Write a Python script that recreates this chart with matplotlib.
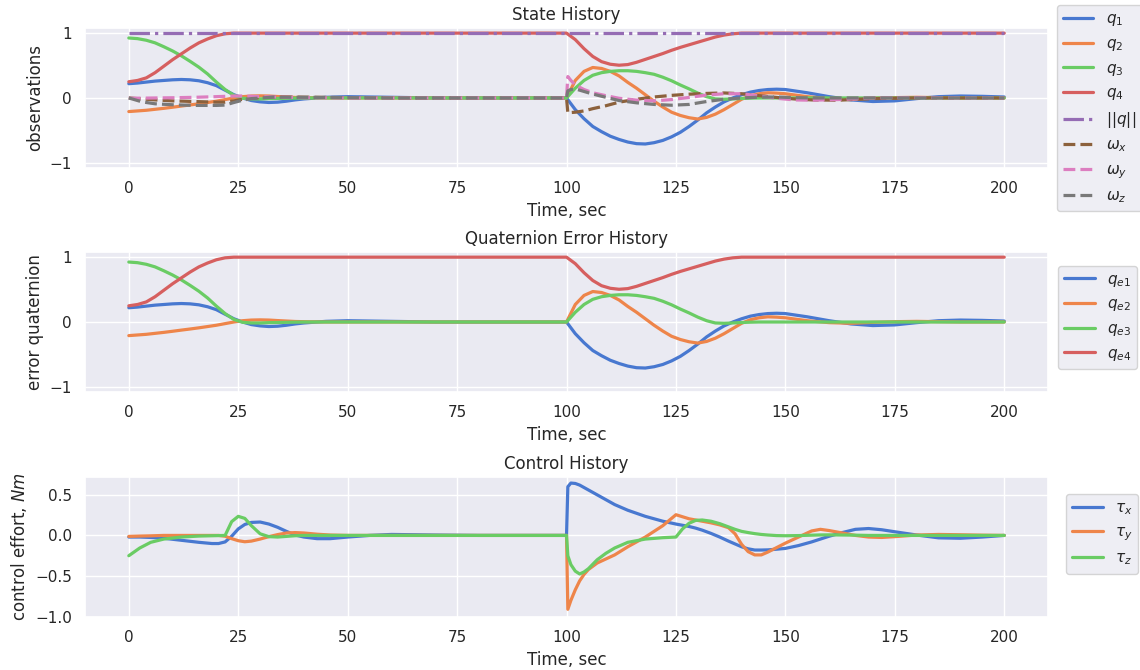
import matplotlib
matplotlib.use("Agg")
import matplotlib.pyplot as plt
import seaborn as sns

# attitude sim results, sampled by hand at the times below

t_q = [0, 2, 4, 6, 8, 10, 12, 14, 16, 18, 20, 22, 24, 26, 28, 30, 32, 34, 36, 38, 40,
       45, 50, 55, 60, 70, 80, 90,
       100, 102, 104, 106, 108, 110, 112, 114, 116, 118, 120, 122, 124, 126,
       128, 130, 132, 134, 136, 138, 140, 142, 144, 146, 148, 150,
       155, 160, 165, 170, 175, 180, 185, 190, 195, 200]

q1 = [0.22, 0.23, 0.245, 0.26, 0.27, 0.28, 0.285, 0.28, 0.265, 0.235, 0.19,
      0.12, 0.05, 0.0, -0.04, -0.06, -0.07, -0.065, -0.05, -0.03, -0.015,
      0.01, 0.02, 0.015, 0.01, 0.0, 0.0, 0.0,
      0.0, -0.18, -0.32, -0.44, -0.52, -0.59, -0.64, -0.68, -0.705, -0.71,
      -0.69, -0.655, -0.6, -0.53, -0.44, -0.34, -0.23, -0.14, -0.06, 0.0,
      0.05, 0.09, 0.115, 0.13, 0.135, 0.13,
      0.08, 0.02, -0.03, -0.055, -0.045, -0.01, 0.02, 0.03, 0.025, 0.015]
q2 = [-0.21, -0.2, -0.19, -0.175, -0.16, -0.143, -0.125, -0.108, -0.09, -0.07,
      -0.05, -0.025, 0.0, 0.02, 0.03, 0.033, 0.03, 0.022, 0.015, 0.008, 0.005,
      0.0, 0.0, 0.0, 0.0, 0.0, 0.0, 0.0,
      0.0, 0.27, 0.41, 0.47, 0.455, 0.41, 0.34, 0.24, 0.15, 0.05,
      -0.05, -0.14, -0.22, -0.27, -0.305, -0.325, -0.3, -0.25, -0.18, -0.1,
      -0.02, 0.035, 0.065, 0.08, 0.075, 0.065,
      0.02, -0.01, -0.02, -0.005, 0.005, 0.01, 0.005, 0.0, 0.0, 0.0]
q3 = [0.925, 0.915, 0.89, 0.85, 0.79, 0.725, 0.65, 0.565, 0.475, 0.37, 0.245,
      0.13, 0.04, -0.005, -0.015, -0.015, -0.01, -0.008, -0.005, -0.002, 0.0,
      0.0, 0.0, 0.0, 0.0, 0.0, 0.0, 0.0,
      0.0, 0.15, 0.27, 0.35, 0.39, 0.41, 0.42, 0.42, 0.41, 0.39,
      0.365, 0.32, 0.265, 0.2, 0.14, 0.075, 0.02, -0.015, -0.02, -0.015,
      -0.008, -0.003, 0.0, 0.0, 0.0, 0.0,
      0.0, 0.0, 0.0, 0.0, 0.0, 0.0, 0.0, 0.0, 0.0, 0.0]
q4 = [0.25, 0.27, 0.31, 0.39, 0.49, 0.59, 0.68, 0.77, 0.85, 0.91, 0.96,
      0.99, 1.0, 1.0, 1.0, 1.0, 1.0, 1.0, 1.0, 1.0, 1.0,
      1.0, 1.0, 1.0, 1.0, 1.0, 1.0, 1.0,
      1.0, 0.9, 0.76, 0.64, 0.56, 0.52, 0.505, 0.515, 0.55, 0.595,
      0.64, 0.685, 0.735, 0.78, 0.82, 0.86, 0.9, 0.94, 0.97, 0.99,
      1.0, 1.0, 1.0, 1.0, 1.0, 1.0,
      1.0, 1.0, 1.0, 1.0, 1.0, 1.0, 1.0, 1.0, 1.0, 1.0]
q_norm = [1.0] * len(t_q)

t_w = [0, 3, 6, 10, 15, 20, 22, 24, 26, 28, 33, 40, 50, 60, 80,
       100, 100.3, 101, 102, 104, 106, 109, 112, 116, 120, 124, 128, 132,
       136, 140, 144, 148, 152, 156, 162, 170, 180, 190, 200]

w_x = [0.0, -0.015, -0.03, -0.045, -0.055, -0.065, -0.065, -0.045, -0.02, 0.0,
       0.015, 0.012, 0.005, 0.0, 0.0,
       0.0, -0.23, -0.225, -0.22, -0.2, -0.165, -0.12, -0.065, -0.02, 0.015,
       0.04, 0.058, 0.07, 0.077, 0.065, 0.035, 0.008, -0.015, -0.03, -0.035,
       -0.01, 0.0, 0.0, 0.0]
w_y = [-0.005, -0.003, 0.0, 0.003, 0.01, 0.02, 0.025, 0.03, 0.03, 0.025,
       0.015, 0.005, 0.0, 0.0, 0.0,
       0.0, 0.33, 0.27, 0.2, 0.13, 0.08, 0.035, -0.005, -0.033, -0.045,
       -0.025, 0.008, 0.045, 0.065, 0.065, 0.032, -0.005, -0.03, -0.035, -0.025,
       0.0, 0.005, 0.0, 0.0]
w_z = [0.0, -0.06, -0.09, -0.105, -0.115, -0.115, -0.11, -0.07, -0.035, -0.01,
       0.012, 0.01, 0.005, 0.0, 0.0,
       0.0, 0.11, 0.13, 0.14, 0.1, 0.06, 0.01, -0.04, -0.075, -0.1,
       -0.112, -0.1, -0.055, -0.02, 0.0, 0.012, 0.015, 0.005, 0.0, 0.0,
       0.0, 0.0, 0.0, 0.0]

t_u = [0, 2.5, 5, 8, 12, 16, 19, 20.5, 22, 23.5, 25, 26.5, 28, 30, 32, 34, 36,
       38, 40, 43, 46, 50, 55, 60, 70, 80, 90,
       100, 100.3, 101, 102, 103, 104, 105, 107, 109, 111, 114, 118, 122, 125,
       126.5, 128, 129.5, 131, 133, 135, 137, 138.5, 140, 141.5, 143, 144.5,
       146, 148, 150, 153, 156, 158, 160, 163, 166, 169, 172, 175, 180, 185,
       190, 195, 200]

tau_x = [-0.02, -0.02, -0.025, -0.035, -0.06, -0.085, -0.1, -0.1, -0.08, -0.01,
         0.08, 0.135, 0.16, 0.165, 0.14, 0.1, 0.05, 0.005, -0.02, -0.04, -0.04,
         -0.02, 0.0, 0.012, 0.005, 0.0, 0.0,
         0.0, 0.6, 0.645, 0.64, 0.62, 0.59, 0.56, 0.5, 0.44, 0.38, 0.31, 0.235,
         0.175, 0.14, 0.125, 0.11, 0.09, 0.065, 0.025, -0.02, -0.07, -0.105,
         -0.14, -0.165, -0.18, -0.18, -0.178, -0.17, -0.16, -0.125, -0.08,
         -0.045, -0.01, 0.035, 0.075, 0.085, 0.07, 0.045, 0.005, -0.03, -0.035,
         -0.02, 0.0]
tau_y = [-0.012, -0.008, -0.005, 0.0, 0.0, 0.0, 0.0, 0.0, -0.01, -0.04,
         -0.065, -0.078, -0.07, -0.045, -0.015, 0.01, 0.03, 0.035, 0.03, 0.015,
         0.005, 0.0, 0.0, 0.0, 0.0, 0.0, 0.0,
         0.0, -0.91, -0.8, -0.67, -0.56, -0.48, -0.42, -0.34, -0.29, -0.24,
         -0.14, -0.02, 0.12, 0.255, 0.23, 0.205, 0.19, 0.175, 0.155, 0.13,
         0.095, 0.02, -0.11, -0.2, -0.24, -0.24, -0.205, -0.15, -0.095, -0.02,
         0.055, 0.075, 0.06, 0.03, 0.0, -0.02, -0.025, -0.015, 0.005, 0.012,
         0.008, 0.003, 0.0]
tau_z = [-0.25, -0.155, -0.085, -0.045, -0.02, -0.008, -0.004, -0.002, 0.0,
         0.17, 0.235, 0.21, 0.12, 0.02, -0.015, -0.02, -0.012, -0.004, 0.0,
         0.0, 0.0, 0.0, 0.0, 0.0, 0.0, 0.0, 0.0,
         0.0, -0.25, -0.36, -0.44, -0.475, -0.45, -0.41, -0.3, -0.22, -0.155,
         -0.085, -0.045, -0.028, -0.02, 0.08, 0.15, 0.185, 0.19, 0.175, 0.145,
         0.105, 0.075, 0.05, 0.035, 0.022, 0.012, 0.005, -0.002, -0.004,
         -0.002, 0.003, 0.006, 0.007, 0.005, 0.003, 0.0, 0.0, 0.0, 0.0, 0.0,
         0.0, 0.0, 0.0]

sns.set_theme(style="darkgrid", palette="muted")
pal = sns.color_palette("muted")
lw = 2.3

fig = plt.figure(figsize=(11.4, 6.7), dpi=100)
ax1 = fig.add_axes([0.0746, 0.7493, 0.8447, 0.209])
ax2 = fig.add_axes([0.0746, 0.4149, 0.8447, 0.209])
ax3 = fig.add_axes([0.0746, 0.0791, 0.8447, 0.209])

# state history: quaternion, its norm and body rates
ax1.plot(t_q, q1, color=pal[0], lw=lw, label='$q_1$')
ax1.plot(t_q, q2, color=pal[1], lw=lw, label='$q_2$')
ax1.plot(t_q, q3, color=pal[2], lw=lw, label='$q_3$')
ax1.plot(t_q, q4, color=pal[3], lw=lw, label='$q_4$')
ax1.plot(t_q, q_norm, color=pal[4], lw=lw, ls='-.', label='$||q||$')
ax1.plot(t_w, w_x, color=pal[5], lw=lw, ls='--', label=r'$\omega_x$')
ax1.plot(t_w, w_y, color=pal[6], lw=lw, ls='--', label=r'$\omega_y$')
ax1.plot(t_w, w_z, color=pal[7], lw=lw, ls='--', label=r'$\omega_z$')
ax1.set_ylim(-1.08, 1.08)
ax1.set_title('State History')
ax1.set_xlabel('Time, sec')
ax1.set_ylabel('observations')
ax1.legend(loc='upper left', bbox_to_anchor=(0.927, 0.992),
           bbox_transform=fig.transFigure, borderaxespad=0)

# error quaternion
for i, (qe, name) in enumerate(zip([q1, q2, q3, q4], ['e1', 'e2', 'e3', 'e4'])):
    ax2.plot(t_q, qe, color=pal[i], lw=lw, label='$q_{%s}$' % name)
ax2.set_ylim(-1.08, 1.08)
ax2.set_title('Quaternion Error History')
ax2.set_xlabel('Time, sec')
ax2.set_ylabel('error quaternion')
ax2.legend(loc='upper left', bbox_to_anchor=(0.928, 0.6034),
           bbox_transform=fig.transFigure, borderaxespad=0)

# control torques
ax3.plot(t_u, tau_x, color=pal[0], lw=lw, label=r'$\tau_x$')
ax3.plot(t_u, tau_y, color=pal[1], lw=lw, label=r'$\tau_y$')
ax3.plot(t_u, tau_z, color=pal[2], lw=lw, label=r'$\tau_z$')
ax3.set_ylim(-1.005, 0.72)
ax3.set_yticks([-1.0, -0.5, 0.0, 0.5])
ax3.set_title('Control History')
ax3.set_xlabel('Time, sec')
ax3.set_ylabel('control effort, $Nm$')
ax3.legend(loc='upper left', bbox_to_anchor=(0.935, 0.2627),
           bbox_transform=fig.transFigure, borderaxespad=0)

for ax in (ax1, ax2, ax3):
    ax.set_xticks([0, 25, 50, 75, 100, 125, 150, 175, 200])

fig.savefig('out.png', dpi=100)
